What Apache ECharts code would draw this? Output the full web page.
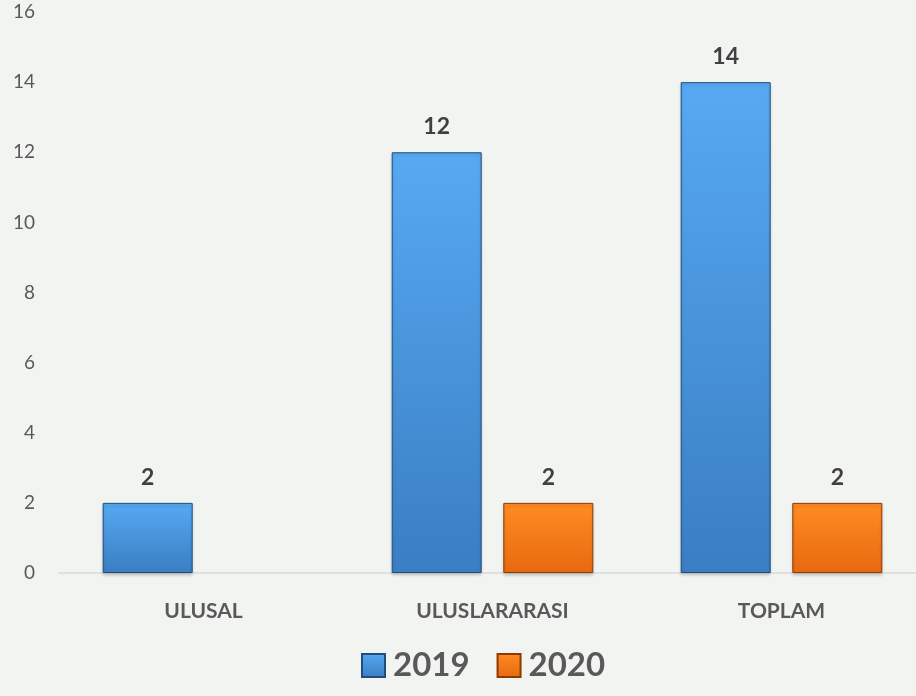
<!DOCTYPE html>
<html>
<head>
<meta charset="utf-8">
<script src="https://cdn.jsdelivr.net/npm/echarts@6/dist/echarts.min.js"></script>
<style>
  html, body { margin: 0; padding: 0; background: #f2f4f1; }
  #chart { width: 916px; height: 696px; }
</style>
</head>
<body>
<div id="chart"></div>
<script>
// chart data
const categories = ["ULUSAL", "ULUSLARARASI", "TOPLAM"];
const values2019 = [2, 12, 14];
const values2020 = [null, 2, 2];
const yTicks = { min: 0, max: 16, interval: 2 };

const FONT = 'Lato, "Open Sans", sans-serif';

function barStyle(top, bottom, edge) {
  return {
    color: {
      type: "linear", x: 0, y: 0, x2: 0, y2: 1,
      colorStops: [
        { offset: 0, color: top },
        { offset: 1, color: bottom },
      ],
    },
    borderColor: edge,
    borderWidth: 1,
    shadowColor: "rgba(0,0,0,0.18)",
    shadowBlur: 3,
    shadowOffsetY: 2,
  };
}

const chart = echarts.init(document.getElementById("chart"), null, { renderer: "canvas" });

const labelStyle = { show: true, position: "top", distance: 14, color: "#404040", fontSize: 23, fontWeight: "bold", fontFamily: FONT };

chart.setOption({
  backgroundColor: "#f2f4f1",
  textStyle: { fontFamily: FONT },
  grid: { left: 59, width: 867, top: 12, bottom: 123, outerBoundsMode: "none", containLabel: false },
  legend: {
    bottom: 9,
    left: 356,
    icon: "rect",
    itemWidth: 23,
    itemHeight: 23,
    itemGap: 27,
    textStyle: { color: "#595959", fontSize: 33, fontWeight: "bold", fontFamily: FONT, padding: [0, 0, 0, 3] },
    data: ["2019", "2020"],
  },
  xAxis: {
    type: "category",
    data: categories,
    axisLine: { lineStyle: { color: "#d9d9d9", width: 1.5 } },
    axisTick: { show: false },
    axisLabel: { color: "#595959", fontSize: 21, fontWeight: "bold", margin: 28, fontFamily: FONT },
  },
  yAxis: {
    type: "value",
    min: yTicks.min,
    max: yTicks.max,
    interval: yTicks.interval,
    axisLine: { show: false },
    axisTick: { show: false },
    splitLine: { show: false },
    axisLabel: { color: "#595959", fontSize: 19, margin: 24, fontFamily: FONT },
  },
  series: [
    {
      name: "2019",
      type: "bar",
      data: values2019,
      barWidth: 90,
      barGap: "24%",
      itemStyle: barStyle("#56a9f2", "#3a7ec3", "#1f4e7e"),
      label: labelStyle,
    },
    {
      name: "2020",
      type: "bar",
      data: values2020,
      barWidth: 90,
      itemStyle: barStyle("#ff8c22", "#e8690f", "#8a3a05"),
      label: labelStyle,
    },
  ],
});
</script>
</body>
</html>
